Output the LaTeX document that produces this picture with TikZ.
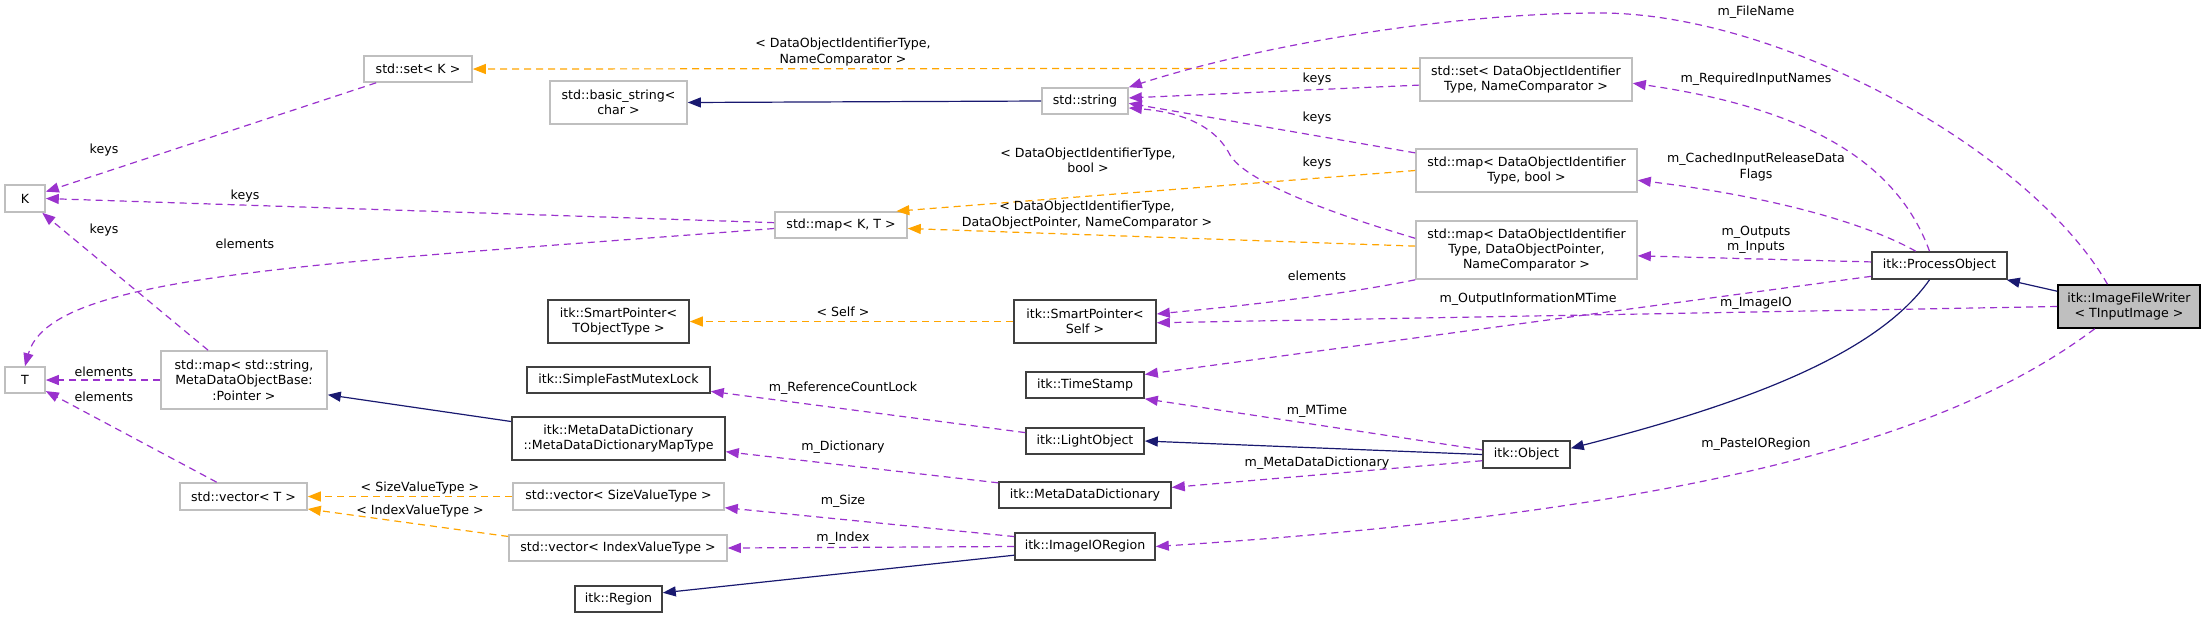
\documentclass[tikz,border=0pt]{standalone}
\usepackage{fontspec}
\setmainfont{DejaVu Sans}
\usepackage{tikz}
\usetikzlibrary{arrows.meta}
\usepackage{xcolor}
\definecolor{doxpurple}{RGB}{154,50,205}
\definecolor{doxorange}{RGB}{255,165,0}
\definecolor{doxnavy}{RGB}{25,25,112}
\definecolor{doxgrey}{RGB}{191,191,191}
\definecolor{doxedge}{RGB}{64,64,64}

\begin{document}
\begin{tikzpicture}[
    x=0.5pt, y=-0.5pt,
    cls/.style={draw=doxedge, line width=0.8pt, fill=white, align=center, inner sep=0pt, font=\fontsize{6.3}{7.7}\selectfont},
    ext/.style={cls, draw=doxgrey},
    sz/.style 2 args={minimum width=#1*0.5pt, minimum height=#2*0.5pt},
    lbl/.style={align=center, inner sep=0pt, font=\fontsize{6.3}{7.7}\selectfont},
    usage/.style={-{Triangle[length=6.5pt, width=5pt]}, doxpurple, dash pattern=on 3.5pt off 2.5pt, line width=0.6pt},
    tmpl/.style={usage, doxorange},
    inherit/.style={-{Triangle[length=6.5pt, width=5pt]}, doxnavy, line width=0.6pt}
]
\useasboundingbox (0,0) rectangle (2205,617);

% === Generic containers ===
\node[ext, sz={40}{27}] (K) at (25,198.5) {K};
\node[ext, sz={40}{26}] (T) at (25,380) {T};
\node[ext, sz={108}{26}] (setK) at (418,69) {std::set< K >};
\node[ext, sz={166}{58}] (mapStr) at (244,380) {std::map< std::string,\\ MetaDataObjectBase:\\:Pointer >};
\node[ext, sz={127}{27}] (vecT) at (243.5,496.5) {std::vector< T >};

% === Second column ===
\node[ext, sz={137}{43}] (basicStr) at (618.5,102.5) {std::basic\_string<\\char >};
\node[cls, sz={141}{43}] (spTObj) at (618.5,321.5) {itk::SmartPointer<\\TObjectType >};
\node[cls, sz={183}{26}] (mutex) at (618.5,380) {itk::SimpleFastMutexLock};
\node[cls, sz={213}{43}] (mapType) at (618.5,438.5) {itk::MetaDataDictionary\\::MetaDataDictionaryMapType};
\node[ext, sz={211}{27}] (vecSize) at (618.5,496.5) {std::vector< SizeValueType >};
\node[ext, sz={218}{26}] (vecIndex) at (618,548) {std::vector< IndexValueType >};
\node[cls, sz={87}{26}] (region) at (618.5,599) {itk::Region};
\node[ext, sz={132}{26}] (mapKT) at (841,225) {std::map< K, T >};

% === Third column ===
\node[ext, sz={86}{26}] (str) at (1085,101) {std::string};
\node[cls, sz={142}{43}] (spSelf) at (1085,321.5) {itk::SmartPointer<\\Self >};
\node[cls, sz={118}{26}] (timeStamp) at (1085,385) {itk::TimeStamp};
\node[cls, sz={118}{26}] (lightObj) at (1085,441) {itk::LightObject};
\node[cls, sz={172}{26}] (mdd) at (1085,495) {itk::MetaDataDictionary};
\node[cls, sz={140}{27}] (ioRegion) at (1085,546.5) {itk::ImageIORegion};

% === Fourth column ===
\node[ext, sz={212}{43}] (setDOI) at (1526,79.5) {std::set< DataObjectIdentifier\\Type, NameComparator >};
\node[ext, sz={221}{43}] (mapBool) at (1526.5,170.5) {std::map< DataObjectIdentifier\\Type, bool >};
\node[ext, sz={221}{58}] (mapDOP) at (1526.5,250) {std::map< DataObjectIdentifier\\Type, DataObjectPointer,\\NameComparator >};
\node[cls, sz={87}{27}] (object) at (1526.5,454.5) {itk::Object};

% === Process object and writer ===
\node[cls, sz={135}{27}] (procObj) at (1939.5,265.5) {itk::ProcessObject};
\node[cls, sz={142}{43}, draw=black, fill=doxgrey] (writer) at (2129,306.5) {itk::ImageFileWriter\\< TInputImage >};

% keys / elements of the containers
\draw[usage] (setK) -- (K);
\draw[usage] (mapKT.178) -- (K.east);
\draw[usage] (mapStr) -- (K);
\draw[usage] (mapKT.183) .. controls (300,265) and (50,275) .. (T.north);
\draw[usage] (mapStr.west) -- (T.east);
\draw[usage] (vecT) -- (T);
\draw[usage] (setDOI.183) -- (str.4);
\draw[usage] (mapBool.171) -- (str.-3);
\draw[usage] (mapDOP.174) .. controls (1320,210) and (1245,180) .. (1230,155) .. controls (1215,125) and (1180,112) .. (str.-9);
\draw[usage] (mapDOP.south west) .. controls (1340,295) and (1250,305) .. (spSelf.6);

% template instances
\draw[tmpl] (setDOI.174) -- (setK.east);
\draw[tmpl] (mapBool.west) -- (mapKT.14);
\draw[tmpl] (mapDOP.178) -- (mapKT.-3);
\draw[tmpl] (spSelf.west) -- (spTObj.east);
\draw[tmpl] (vecSize.west) -- (vecT.east);
\draw[tmpl] (vecIndex.174) -- (vecT.-11);

% inheritance
\draw[inherit] (str.west) -- (basicStr.east);
\draw[inherit] (mapType.171) -- (mapStr.-10);
\draw[inherit] (ioRegion.187) -- (region.8);
\draw[inherit] (object.west) -- (lightObj.east);
\draw[inherit] (procObj.-125) .. controls (1880,350) and (1760,400) .. (object.8);
\draw[inherit] (writer.168) -- (procObj.-12);

% members
\draw[usage] (writer.134) .. controls (2030,150) and (1780,13) .. (1600,13) .. controls (1450,13) and (1260,45) .. (str.north east);
\draw[usage] (procObj.125) .. controls (1900,170) and (1820,110) .. (setDOI.-2);
\draw[usage] (procObj.149) .. controls (1860,220) and (1760,195) .. (mapBool.-5);
\draw[usage] (procObj.177) -- (mapDOP.-3);
\draw[usage] (procObj.189) -- (timeStamp.10);
\draw[usage] (writer.west) -- (spSelf.-1);
\draw[usage] (writer.-147) .. controls (1960,430) and (1720,510) .. (ioRegion.east);
\draw[usage] (object.174) -- (timeStamp.-13);
\draw[usage] (object.188) -- (mdd.5);
\draw[usage] (lightObj.172) -- (mutex.-7);
\draw[usage] (mdd.172) -- (mapType.-7);
\draw[usage] (ioRegion.172) -- (vecSize.-6);
\draw[usage] (ioRegion.west) -- (vecIndex.east);

% edge labels
\node[lbl] (lKeysA) at (104,150) {keys};
\node[lbl] (lKeysB) at (245,196) {keys};
\node[lbl] (lKeysC) at (104,230) {keys};
\node[lbl] (lElemA) at (245,244) {elements};
\node[lbl] (lElemB) at (104,372) {elements};
\node[lbl] (lElemC) at (104,397) {elements};
\node[lbl] (lSizeT) at (420,488) {< SizeValueType >};
\node[lbl] (lIndexT) at (420,511) {< IndexValueType >};
\node[lbl] (lSetT) at (843,52) {< DataObjectIdentifierType,\\NameComparator >};
\node[lbl] (lBoolT) at (1088,160) {< DataObjectIdentifierType,\\bool >};
\node[lbl] (lPtrT) at (1087,215) {< DataObjectIdentifierType,\\DataObjectPointer, NameComparator >};
\node[lbl] (lSelfT) at (843,312) {< Self >};
\node[lbl] (lLock) at (843,388) {m\_ReferenceCountLock};
\node[lbl] (lDict) at (843,447) {m\_Dictionary};
\node[lbl] (lSize) at (843,501) {m\_Size};
\node[lbl] (lIndex) at (843,538) {m\_Index};
\node[lbl] (lKeysD) at (1317,79) {keys};
\node[lbl] (lKeysE) at (1317,118) {keys};
\node[lbl] (lKeysF) at (1317,163) {keys};
\node[lbl] (lElemD) at (1317,276) {elements};
\node[lbl] (lOutTime) at (1528,299) {m\_OutputInformationMTime};
\node[lbl] (lMTime) at (1317,411) {m\_MTime};
\node[lbl] (lMDD) at (1317,463) {m\_MetaDataDictionary};
\node[lbl] (lFile) at (1756,12) {m\_FileName};
\node[lbl] (lReq) at (1756,79) {m\_RequiredInputNames};
\node[lbl] (lCached) at (1756,167) {m\_CachedInputReleaseData\\Flags};
\node[lbl] (lInOut) at (1756,240) {m\_Outputs\\m\_Inputs};
\node[lbl] (lImageIO) at (1756,303) {m\_ImageIO};
\node[lbl] (lPaste) at (1756,444) {m\_PasteIORegion};

\end{tikzpicture}
\end{document}
